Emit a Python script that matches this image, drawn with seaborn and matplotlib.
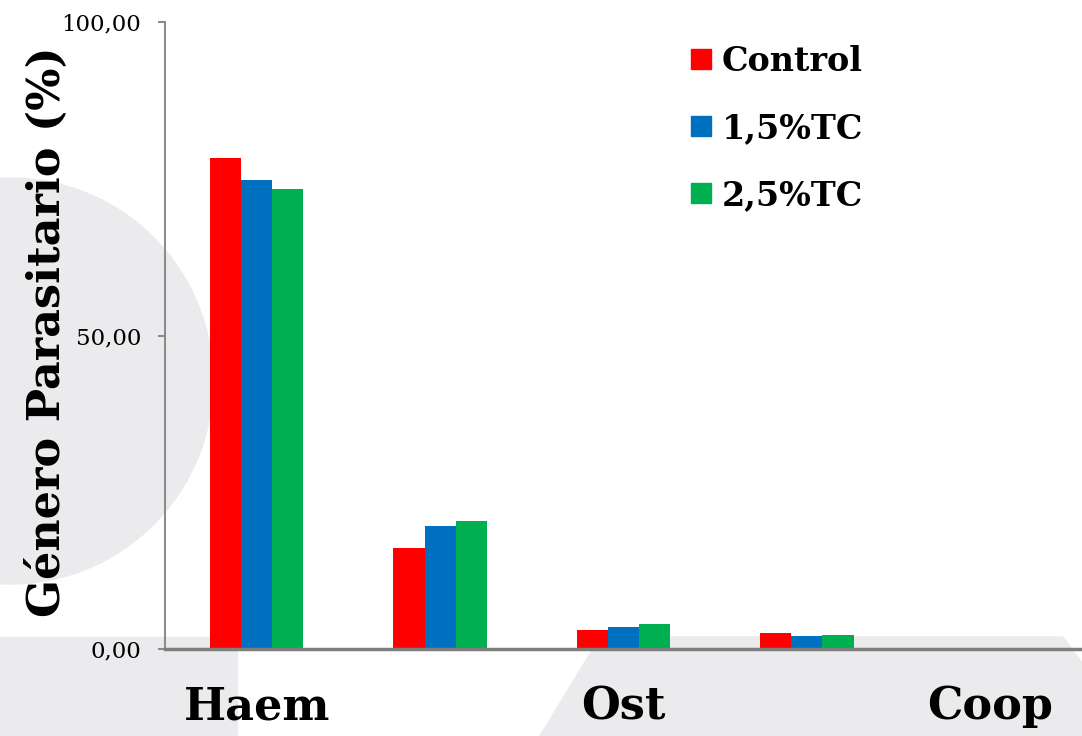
import matplotlib
matplotlib.use("Agg")
import matplotlib.pyplot as plt
import matplotlib.patches as mpatches
from matplotlib.lines import Line2D
import pandas as pd
import seaborn as sns

# Parasite genera (only alternate groups carry a printed label)
group_ids = [0, 1, 2, 3, 4]
tick_labels = ["Haem", "", "Ost", "", "Coop"]
treatments = ["Control", "1,5%TC", "2,5%TC"]

control = [78.3, 16.1, 3.0, 2.6, 0.0]
tc_15 = [74.8, 19.6, 3.5, 2.1, 0.15]
tc_25 = [73.4, 20.4, 4.0, 2.3, 0.0]

colors = ["#ff0000", "#0070c0", "#00b050"]

rows = []
for name, vals in zip(treatments, [control, tc_15, tc_25]):
    for g, v in zip(group_ids, vals):
        rows.append({"grupo": g, "valor": v, "tratamiento": name})
df = pd.DataFrame(rows)

sns.set_theme(style="white")
plt.rcParams["font.family"] = ["DejaVu Serif"]
plt.rcParams["text.color"] = "black"
plt.rcParams["xtick.color"] = "black"
plt.rcParams["ytick.color"] = "black"

W, H = 1082, 736
fig = plt.figure(figsize=(W / 100, H / 100), dpi=100)
fig.patch.set_facecolor("white")

# Decorative light-grey background shapes (pixel coordinates, origin top-left)
grey = "#ebebee"
def px(x, y):
    return (x / W, 1 - y / H)

circle = mpatches.Ellipse(px(10, 381), 2 * 203 / W, 2 * 203 / H,
                          transform=fig.transFigure, color=grey, zorder=-10)
rect = mpatches.Polygon([px(0, 637), px(237, 637), px(237, 736), px(0, 736)],
                        closed=True, transform=fig.transFigure, color=grey, zorder=-10)
trap = mpatches.Polygon([px(600, 637), px(1063, 637), px(1082, 663), px(1082, 736),
                         px(540, 736)],
                        closed=True, transform=fig.transFigure, color=grey, zorder=-10)
for p in (circle, rect, trap):
    fig.patches.append(p)

ax = fig.add_axes([165 / W, (H - 649) / H, (W - 165) / W, (649 - 22) / H])
ax.set_facecolor("none")
ax.set_zorder(5)

sns.barplot(data=df, x="grupo", y="valor", hue="tratamiento",
            hue_order=treatments, palette=colors, width=0.51, gap=0,
            saturation=1, linewidth=0, ax=ax, legend=False)

ax.set_ylim(0, 100)
ax.set_xlim(-0.5, 4.5)
ax.set_yticks([0, 50, 100])
ax.set_yticklabels(["0,00", "50,00", "100,00"], fontsize=16.5, color="black")
ax.set_xticks(group_ids)
ax.set_xticklabels(tick_labels, fontsize=32, fontweight="bold", color="black")
ax.set_xlabel("")
ax.set_ylabel("")

for s in ("top", "right"):
    ax.spines[s].set_visible(False)
ax.spines["left"].set_color("#8c8c8c")
ax.spines["left"].set_linewidth(1.5)
ax.spines["bottom"].set_color("#7f7f7f")
ax.spines["bottom"].set_linewidth(2.5)
ax.tick_params(axis="y", direction="out", length=5, width=1.5, color="#8c8c8c",
               labelcolor="black", pad=12, left=True)
ax.tick_params(axis="x", length=0, pad=26, labelcolor="black")

fig.text(47 / W, 1 - 332 / H, "Género Parasitario (%)", rotation=90,
         ha="center", va="center", fontsize=32, fontweight="bold", color="black")

handles = [Line2D([0], [0], marker="s", linestyle="none", markersize=14,
                  markerfacecolor=c, markeredgecolor=c) for c in colors]
leg = fig.legend(handles, treatments, loc="upper left",
                 bbox_to_anchor=(672 / W, 1 - 28 / H), frameon=False,
                 prop={"size": 24, "weight": "bold"}, handlelength=0.75,
                 handletextpad=0.25, labelspacing=1.02, borderpad=0)
for t in leg.get_texts():
    t.set_color("black")

fig.savefig("out.png", dpi=100, facecolor="white")
